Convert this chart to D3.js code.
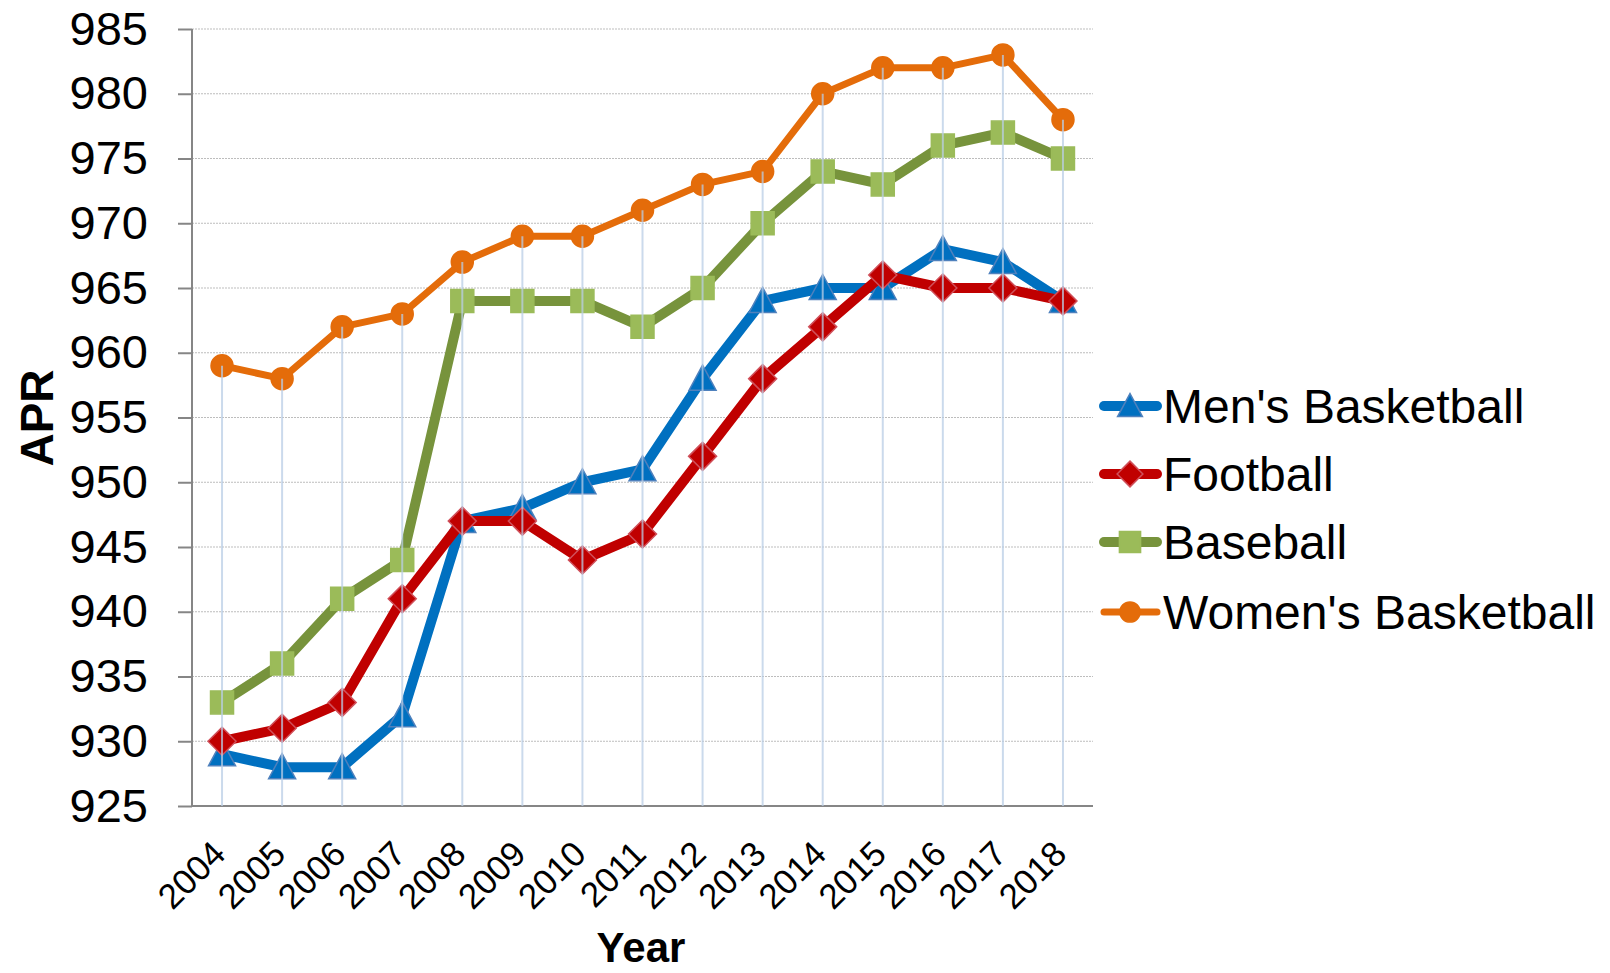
<!DOCTYPE html>
<html>
<head>
<meta charset="utf-8">
<script src="https://cdn.jsdelivr.net/npm/d3@7/dist/d3.min.js"></script>
<style>
  html, body { margin: 0; padding: 0; background: #fff; }
  svg { display: block; }
  text { font-family: "Liberation Sans", Arial, sans-serif; fill: #000; }
</style>
</head>
<body>
<svg id="chart" width="1610" height="973"></svg>
<script>
const years = ["2004","2005","2006","2007","2008","2009","2010","2011","2012","2013","2014","2015","2016","2017","2018"];
const mensBasketball = [929, 928, 928, 932, 947, 948, 950, 951, 958, 964, 965, 965, 968, 967, 964];
const football       = [930, 931, 933, 941, 947, 947, 944, 946, 952, 958, 962, 966, 965, 965, 964];
const baseball       = [933, 936, 941, 944, 964, 964, 964, 962, 965, 970, 974, 973, 976, 977, 975];
const womensBasketball = [959, 958, 962, 963, 967, 969, 969, 971, 973, 974, 980, 982, 982, 983, 978];
const yTicks = [925, 930, 935, 940, 945, 950, 955, 960, 965, 970, 975, 980, 985];
const seriesNames = ["Men's Basketball", "Football", "Baseball", "Women's Basketball"];

(function () {
const series = [
  { name: seriesNames[0], values: mensBasketball, line: "#0070c0", fill: "#0070c0", stroke: "#4f81bd", width: 10, marker: "triangle", size: 27 },
  { name: seriesNames[1], values: football, line: "#c00000", fill: "#c00000", stroke: "#d0505a", width: 10, marker: "diamond", size: 28 },
  { name: seriesNames[2], values: baseball, line: "#77933c", fill: "#9bbb59", stroke: "#9bbb59", width: 10, marker: "square", size: 23 },
  { name: seriesNames[3], values: womensBasketball, line: "#e46c0a", fill: "#e46c0a", stroke: "#e46c0a", width: 7, marker: "circle", size: 22 }
];

const svg = d3.select("#chart");
const pLeft = 192, pRight = 1093, pTop = 29, pBottom = 806;

const x = d3.scalePoint().domain(years).range([pLeft, pRight]).padding(0.5);
const y = d3.scaleLinear().domain([925, 985]).range([pBottom, pTop]);

// horizontal gridlines
svg.append("g").selectAll("line").data(yTicks.filter(t => t !== 925)).join("line")
  .attr("x1", pLeft).attr("x2", pRight)
  .attr("y1", d => y(d)).attr("y2", d => y(d))
  .attr("stroke", "#bdbdbd").attr("stroke-width", 1).attr("stroke-dasharray", "2,1");

// y axis
const yAxis = d3.axisLeft(y).tickValues(yTicks).tickSize(14).tickPadding(30).tickFormat(d3.format("d"));
const gy = svg.append("g").attr("transform", `translate(${pLeft},0)`).call(yAxis);
gy.select(".domain").attr("stroke", "#868686").attr("stroke-width", 2).attr("d", `M0,${pTop}V${pBottom}`);
gy.selectAll(".tick line").attr("stroke", "#868686").attr("stroke-width", 2);
gy.selectAll(".tick text").attr("font-size", 47).attr("font-family", "Liberation Sans, Arial, sans-serif").attr("fill", "#000");

// x axis
const xAxis = d3.axisBottom(x).tickSize(0).tickPadding(0);
const gx = svg.append("g").attr("transform", `translate(0,${pBottom})`).call(xAxis);
gx.select(".domain").attr("stroke", "#868686").attr("stroke-width", 2).attr("d", `M${pLeft},0H${pRight}`);
gx.selectAll(".tick text")
  .attr("font-size", 35).attr("font-family", "Liberation Sans, Arial, sans-serif").attr("fill", "#000")
  .attr("text-anchor", "end").attr("dy", 0).attr("y", 0)
  .attr("transform", "translate(5,50) rotate(-45)");

// lines & markers
const line = d3.line().x((d, i) => x(years[i])).y(d => y(d));

function markerPath(type, s) {
  const h = s / 2;
  if (type === "triangle") return `M0,${-h}L${h},${h * 0.85}L${-h},${h * 0.85}Z`;
  if (type === "diamond") return `M0,${-h}L${h},0L0,${h}L${-h},0Z`;
  if (type === "square") return `M${-h},${-h}H${h}V${h}H${-h}Z`;
  return d3.symbol(d3.symbolCircle, Math.PI * h * h)();
}

series.forEach(s => {
  const g = svg.append("g");
  g.append("path").datum(s.values).attr("d", line)
    .attr("fill", "none").attr("stroke", s.line).attr("stroke-width", s.width)
    .attr("stroke-linejoin", "round").attr("stroke-linecap", "round");
  g.selectAll("path.m").data(s.values).join("path").attr("class", "m")
    .attr("transform", (d, i) => `translate(${x(years[i])},${y(d)})`)
    .attr("d", markerPath(s.marker, s.size))
    .attr("fill", s.fill).attr("stroke", s.stroke).attr("stroke-width", 1.5);
});

// drop lines (from highest point to axis)
const maxVals = years.map((yr, i) => d3.max(series, s => s.values[i]));
svg.append("g").selectAll("line").data(maxVals).join("line")
  .attr("x1", (d, i) => x(years[i])).attr("x2", (d, i) => x(years[i]))
  .attr("y1", d => y(d)).attr("y2", pBottom)
  .attr("stroke", "#b9cde5").attr("stroke-opacity", 0.75).attr("stroke-width", 2);

// axis titles
svg.append("text").attr("x", 641).attr("y", 962).attr("text-anchor", "middle")
  .attr("font-size", 42).attr("font-weight", "bold").text("Year");
svg.append("text").attr("transform", `translate(53,418) rotate(-90)`).attr("text-anchor", "middle")
  .attr("font-size", 46).attr("font-weight", "bold").text("APR");

// legend
const legendY = [406, 474, 542, 612];
const lg = svg.append("g");
series.forEach((s, i) => {
  const g = lg.append("g").attr("transform", `translate(0,${legendY[i]})`);
  g.append("line").attr("x1", 1104).attr("x2", 1157).attr("y1", 0).attr("y2", 0)
    .attr("stroke", s.line).attr("stroke-width", s.width).attr("stroke-linecap", "round");
  g.append("path").attr("transform", `translate(1130,0)`).attr("d", markerPath(s.marker, s.size * 0.92))
    .attr("fill", s.fill).attr("stroke", s.stroke).attr("stroke-width", 1.5);
  g.append("text").attr("x", 1163).attr("y", 0).attr("dy", "0.35em")
    .attr("font-size", 48).text(s.name);
});
})();
</script>
</body>
</html>
